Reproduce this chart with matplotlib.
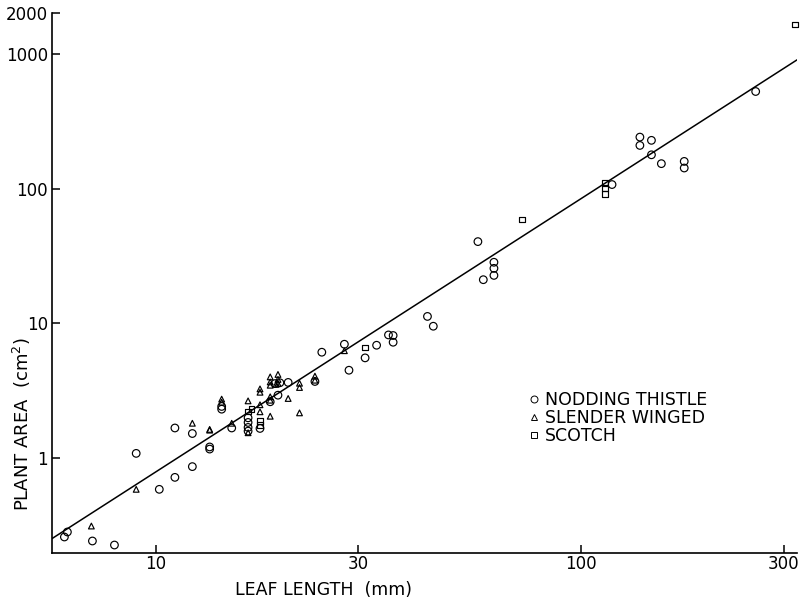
import matplotlib
matplotlib.use("Agg")
import matplotlib.pyplot as plt
from matplotlib.lines import Line2D
import numpy as np

plt.rcParams['font.family'] = ['DejaVu Sans']

# ---- data (leaf length in mm, plant area in cm^2) ----
nodding_x = [6.1, 6.2, 7.1, 8.0, 9.0, 10.2, 11.1, 11.1, 12.2, 12.2, 13.4, 13.4,
             14.3, 14.3, 15.1, 16.5, 16.5, 16.5, 16.5, 17.6, 18.6, 19.4, 19.1,
             19.6, 20.5, 23.7, 24.6, 27.8, 28.5, 31.1, 33.1, 35.3, 36.2, 36.2,
             43.6, 45.0, 57.3, 59.0, 62.5, 62.5, 62.5, 118.5, 137.8, 137.8,
             146.7, 146.7, 154.8, 175.2, 175.2, 258.0]
nodding_y = [0.257, 0.28, 0.24, 0.224, 1.075, 0.581, 0.713, 1.66, 1.51, 0.857,
             1.20, 1.157, 2.40, 2.29, 1.66, 1.975, 1.825, 1.676, 1.573, 1.647,
             2.60, 2.91, 3.55, 3.60, 3.62, 3.68, 6.07, 6.96, 4.46, 5.51, 6.84,
             8.16, 8.08, 7.20, 11.2, 9.47, 40.3, 21.0, 28.3, 25.5, 22.6, 107.0,
             241.0, 209.0, 228.0, 178.0, 153.0, 159.0, 142.0, 526.0]

slender_x = [7.06, 9.0, 12.2, 13.4, 13.4, 14.3, 14.3, 15.1, 16.5, 16.5, 17.6,
             17.6, 17.6, 17.6, 18.6, 18.6, 18.6, 19.4, 19.4, 19.4, 19.2, 18.6,
             18.6, 20.5, 18.6, 21.8, 21.8, 21.8, 23.7, 23.7, 27.8]
slender_y = [0.31, 0.581, 1.80, 1.60, 1.62, 2.72, 2.58, 1.80, 2.64, 1.53, 3.24,
             3.06, 2.47, 2.19, 3.98, 3.65, 3.45, 4.15, 3.81, 3.56, 3.50, 2.83,
             2.67, 2.75, 2.03, 2.15, 3.57, 3.32, 4.03, 3.76, 6.23]

scotch_x = [16.5, 16.8, 17.6, 17.6, 31.1, 72.7, 114.0, 114.0, 114.0, 319.0]
scotch_y = [2.20, 2.30, 1.86, 1.75, 6.58, 58.7, 111.0, 100.0, 91.0, 1653.0]

# fitted log-log regression line: log10(A) = b0 + b1*log10(L)
fit_b0 = -2.137
fit_b1 = 2.03

x_ticks = [10, 30, 100, 300]
x_ticklabels = ["10", "30", "100", "300"]
y_ticks = [1, 10, 100, 1000, 2000]
y_ticklabels = ["1", "10", "100", "1000", "2000"]

legend_labels = ["NODDING THISTLE", "SLENDER WINGED", "SCOTCH"]

# ---- figure ----
fig = plt.figure(figsize=(8.03, 6.03), dpi=100)
ax = fig.add_axes([0.065, 0.0837, 0.927, 0.894])

xmin, xmax = 5.71, 322
ax.set_xscale('log')
ax.set_yscale('log')
ax.set_xlim(xmin, xmax)
ax.set_ylim(0.197, 2000)

mk = dict(facecolors='none', edgecolors='black', linewidths=0.85, clip_on=False, zorder=3)
ax.scatter(nodding_x, nodding_y, marker='o', s=30, **mk)
ax.scatter(slender_x, slender_y, marker='^', s=17, **mk)
ax.scatter(scotch_x, scotch_y, marker='s', s=17, **mk)

lx = np.array([xmin, xmax])
ly = 10 ** (fit_b0 + fit_b1 * np.log10(lx))
ax.plot(lx, ly, color='black', lw=1.1, zorder=2)

for s in ['top', 'right']:
    ax.spines[s].set_visible(False)
for s in ['left', 'bottom']:
    ax.spines[s].set_linewidth(1.2)

ax.set_xticks(x_ticks)
ax.set_xticklabels(x_ticklabels)
ax.set_yticks(y_ticks)
ax.set_yticklabels(y_ticklabels)
ax.xaxis.set_minor_locator(matplotlib.ticker.NullLocator())
ax.yaxis.set_minor_locator(matplotlib.ticker.NullLocator())
ax.tick_params(direction='in', length=6, width=1.1, labelsize=12, pad=3)
ax.tick_params(axis='x', pad=2)

ax.set_xlabel("LEAF LENGTH  (mm)", fontsize=12.5)
ax.xaxis.set_label_coords(0.365, -0.0695)
ax.xaxis.label.set_va('center')
ax.set_ylabel("PLANT AREA  (cm$^2$)", fontsize=13)
ax.yaxis.set_label_coords(-0.041, 0.238)
ax.yaxis.label.set_va('center')

handles = [Line2D([], [], ls='none', marker=m, ms=ms, mfc='none', mec='black', mew=0.7)
           for m, ms in [('o', 5), ('^', 4.5), ('s', 4.5)]]
ax.legend(handles, legend_labels, loc='upper left',
          bbox_to_anchor=(0.660, 0.352), bbox_transform=fig.transFigure,
          frameon=False, fontsize=12.5, handlelength=0.5, handletextpad=0.35,
          labelspacing=0.0, borderpad=0, borderaxespad=0)

fig.savefig("out.png", dpi=100)
